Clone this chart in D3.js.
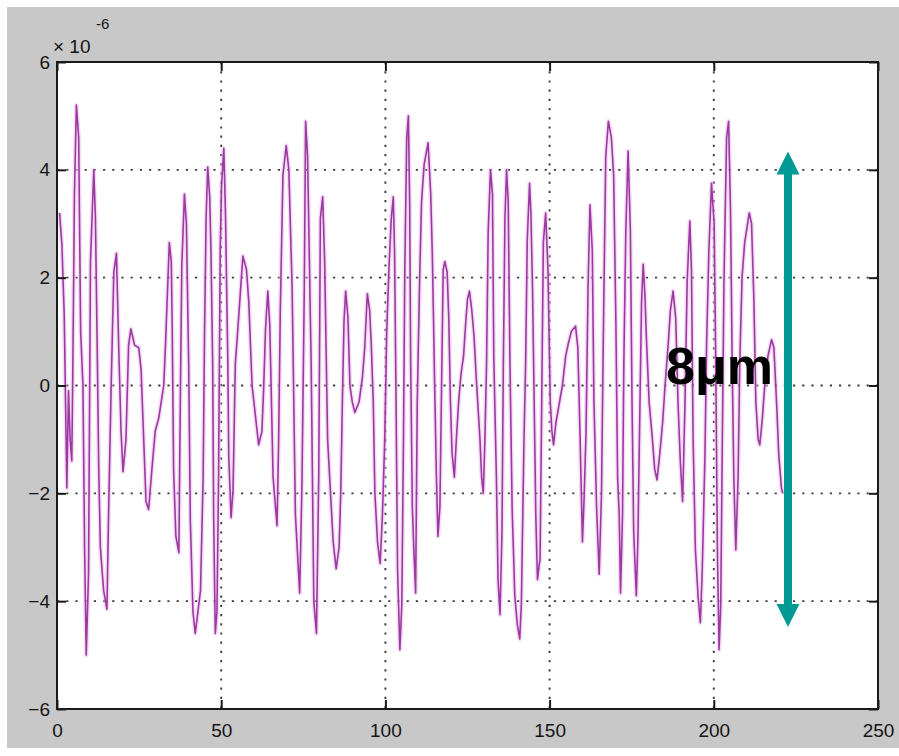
<!DOCTYPE html>
<html>
<head>
<meta charset="utf-8">
<script src="https://cdn.jsdelivr.net/npm/d3@7"></script>
<style>
  html, body { margin: 0; padding: 0; background: #ffffff; }
  svg { display: block; }
  .tick text { font-family: "Liberation Sans", Arial, sans-serif; }
</style>
</head>
<body>
<svg id="chart" width="899" height="756"></svg>
<script>
// Displacement trace (units of 1e-6 m) against sample index
const sampleX = [
  0.8, 1.5, 2.2, 3.0, 3.5, 4.0, 4.5, 4.8, 5.3, 5.9, 6.6, 7.2, 7.9, 8.4, 8.9, 9.6,
  10.2, 11.2, 11.7, 12.2, 12.7, 13.2, 14.2, 15.2, 15.7, 16.5, 17.3, 18.1, 18.8, 19.5,
  20.1, 21.0, 21.8, 22.5, 23.6, 24.9, 25.6, 26.4, 27.1, 27.9, 28.9, 29.9, 31.0, 32.5,
  33.0, 34.2, 34.8, 35.1, 35.5, 36.2, 37.1, 37.6, 38.0, 38.8, 39.4, 40.1, 40.6, 41.4,
  42.1, 43.7, 44.5, 44.9, 45.4, 45.9, 46.5, 46.9, 47.4, 47.7, 48.2, 48.7, 49.2, 49.7,
  50.1, 50.8, 51.3, 52.0, 52.3, 53.0, 53.6, 54.3, 55.3, 56.6, 57.7, 58.4, 59.4, 60.4,
  61.4, 62.4, 62.9, 63.5, 64.2, 64.8, 65.8, 67.0, 67.5, 68.0, 68.8, 69.8, 70.6, 71.6,
  72.6, 73.9, 74.6, 75.3, 75.7, 76.3, 77.4, 78.2, 79.0, 79.7, 80.2, 80.9, 81.5, 82.4,
  84.1, 85.0, 85.9, 86.4, 86.9, 87.4, 87.9, 88.6, 89.2, 89.9, 90.7, 92.0, 93.0, 93.7,
  94.5, 95.2, 95.7, 96.3, 96.8, 97.6, 98.4, 99.1, 99.8, 100.4, 101.1, 101.8, 102.4,
  102.8, 103.2, 103.7, 104.4, 105.0, 105.5, 105.9, 106.5, 107.0, 107.4, 107.7, 108.2,
  108.7, 109.2, 109.7, 110.4, 111.0, 111.8, 113.0, 113.8, 114.3, 115.0, 115.5, 116.0,
  116.6, 117.1, 117.6, 118.1, 118.8, 119.3, 119.8, 120.3, 121.0, 121.6, 122.3, 123.0,
  123.8, 124.5, 125.0, 125.6, 126.3, 127.0, 127.8, 128.8, 129.3, 129.8, 130.3, 130.8,
  131.3, 132.0, 132.6, 133.0, 133.8, 134.3, 134.9, 135.5, 135.9, 136.4, 136.9, 137.4,
  137.9, 138.6, 139.4, 140.2, 140.9, 141.4, 142.2, 142.7, 143.2, 143.9, 144.3, 144.8,
  145.3, 145.8, 146.3, 147.1, 147.6, 148.1, 148.8, 149.5, 150.2, 150.7, 151.2, 151.9,
  152.9, 153.9, 154.9, 155.6, 156.6, 157.9, 158.6, 159.3, 160.0, 160.5, 161.1, 161.7,
  162.3, 163.0, 163.5, 164.3, 165.1, 165.8, 166.4, 167.1, 167.9, 168.8, 169.5, 170.2,
  170.7, 171.2, 171.6, 172.2, 172.6, 173.2, 173.9, 174.6, 175.1, 175.6, 176.4, 176.9,
  177.5, 178.0, 178.5, 179.0, 179.5, 180.3, 181.3, 182.0, 182.7, 183.5, 184.4, 185.1,
  186.1, 186.8, 187.6, 188.4, 189.1, 189.8, 190.5, 191.2, 191.9, 192.7, 193.2, 193.7,
  194.4, 195.2, 195.9, 196.5, 197.3, 197.8, 198.5, 199.3, 200.1, 200.6, 201.1, 201.6,
  202.1, 202.6, 203.1, 203.9, 204.5, 205.1, 205.6, 206.1, 206.7, 207.4, 207.9, 208.6,
  209.4, 210.8, 211.5, 212.2, 212.8, 213.5, 214.0, 214.8, 215.5, 216.5, 217.6, 218.3,
  219.1, 219.8, 220.6, 221.0
];
const sampleY = [
  3.2, 2.6, 1.3, -1.9, -0.1, -1.0, -1.4, 0.2, 3.5, 5.2, 4.6, 1.0, 0, -3.0, -5.0, -3.5,
  2.3, 4.0, 3.1, 0.9, -1.5, -3.0, -3.8, -4.15, -2.4, 0, 2.1, 2.45, 0.7, -0.85,
  -1.6, -1.0, 0.75, 1.05, 0.75, 0.7, 0.3, -1.0, -2.15, -2.3, -1.55, -0.85, -0.6, 0,
  0.7, 2.65, 2.3, 1.0, -1.55, -2.8, -3.1, 0, 2.2, 3.55, 3.0, 0.4, -2.5, -4.2,
  -4.6, -3.8, -1.7, 0.85, 3.1, 4.05, 3.5, 2.45, 0.4, -2.4, -4.6, -4.2, -1.7, 2.5,
  3.7, 4.4, 3.2, 0.5, -1.3, -2.45, -1.95, 0.4, 1.25, 2.4, 2.15, 1.55, 0, -0.55,
  -1.1, -0.85, -0.1, 1.05, 1.75, 1.1, -1.7, -2.6, -1.0, 1.4, 3.9, 4.45, 4.0, 1.8,
  -2.4, -3.85, -1.8, 1.8, 4.9, 4.25, 0.4, -4.0, -4.6, -1.7, 3.1, 3.5, 2.3, -1.0,
  -2.9, -3.4, -3.0, -2.0, -0.3, 1.2, 1.75, 1.25, 0, -0.3, -0.5, -0.3, 0.15, 0.7,
  1.7, 1.4, 0.75, -0.3, -2.0, -2.9, -3.3, -2.4, -1.0, 1.0, 2.2, 3.1, 3.5,
  2.45, 0, -3.4, -4.9, -4.05, -1.0, 2.1, 4.6, 5.0, 3.3, 0.4, -2.25,
  -3.1, -3.85, -0.3, 1.9, 3.4, 4.1, 4.5, 3.55, 2.4, 0, -1.6, -2.8,
  -2.25, 0, 2.15, 2.3, 2.1, 1.25, -0.3, -1.25, -1.7, -1.0, -0.3, 0.2,
  0.55, 1.2, 1.6, 1.75, 1.4, 0.9, 0, -1.0, -1.7, -2.0, -1.0, 0.4,
  2.85, 4.0, 3.55, 0.55, -1.7, -3.6, -4.25, -2.7, 0.3, 3.1, 4.0, 3.4,
  0.55, -2.3, -3.9, -4.45, -4.7, -4.05, -1.0, 0.4, 2.7, 3.75, 3.2, 1.8,
  -0.3, -2.4, -3.6, -3.2, -0.3, 2.65, 3.2, 2.15, -0.3, -0.85, -1.1, -0.7,
  -0.35, 0, 0.55, 0.75, 1.0, 1.1, 0.7, -1.0, -2.9, -2.1, -0.85, 1.8,
  3.35, 2.5, -0.3, -2.25, -3.5, -2.0, 1.1, 4.25, 4.9, 4.6, 3.9, 1.1,
  -1.7, -2.4, -3.85, -2.4, 0.4, 2.85, 4.35, 2.85, -0.3, -2.7, -3.9, -2.8,
  -0.4, 1.55, 2.25, 1.7, 0.85, -0.3, -1.0, -1.55, -1.75, -1.3, -0.7, -0.05,
  0.75, 1.4, 1.75, 1.25, -0.3, -1.4, -2.15, -0.4, 1.95, 3.05, 2.15, -1.0,
  -3.05, -3.9, -4.4, -3.4, -1.3, 0.75, 2.5, 3.75, 3.0, 0.4, -3.05, -4.9,
  -4.1, -1.0, 1.95, 4.6, 4.9, 3.2, 0.4, -1.7, -3.05, -1.7, 0.4, 2.0,
  2.65, 3.2, 3.0, 1.6, -0.3, -1.0, -1.1, -0.6, 0, 0.55, 0.85, 0.7,
  -0.3, -1.3, -1.9, -2.0
];

const xTicks = [0, 50, 100, 150, 200, 250];
const yTicks = [-6, -4, -2, 0, 2, 4, 6];
const exponentLabel = "-6";

// Peak-to-peak annotation (micrometres)
const spanValue = 8;
const spanLabel = "8\u03bcm";

// ---- layout ----
const svg = d3.select("#chart");
const W = 899, H = 756;
const plot = { left: 57, right: 878, top: 62, bottom: 709 };

const x = d3.scaleLinear().domain([0, 250]).range([plot.left, plot.right]);
const y = d3.scaleLinear().domain([-6, 6]).range([plot.bottom, plot.top]);

// figure background
svg.append("rect").attr("x", 7).attr("y", 7).attr("width", W - 7).attr("height", 741)
  .attr("fill", "#c8c8c8");

// axes area
svg.append("rect")
  .attr("x", plot.left).attr("y", plot.top)
  .attr("width", plot.right - plot.left).attr("height", plot.bottom - plot.top)
  .attr("fill", "#ffffff");

// dotted grid
const grid = svg.append("g").attr("stroke", "#1e1e1e").attr("stroke-width", 1.9)
  .attr("stroke-dasharray", "2.2,7").attr("opacity", 0.85);
grid.selectAll("line.gx").data(xTicks.filter(t => t > 0 && t < 250)).join("line")
  .attr("x1", d => x(d)).attr("x2", d => x(d))
  .attr("y1", plot.top).attr("y2", plot.bottom);
grid.selectAll("line.gy").data(yTicks.filter(t => t > -6 && t < 6)).join("line")
  .attr("x1", plot.left).attr("x2", plot.right)
  .attr("y1", d => y(d)).attr("y2", d => y(d));

// signal: soft pink fringe under a purple core
const pts = sampleX.map((v, i) => [v, sampleY[i]]);
const line = d3.line().x(d => x(d[0])).y(d => y(d[1]));
svg.append("path").datum(pts).attr("d", line)
  .attr("fill", "none").attr("stroke", "#eeb8ee").attr("stroke-width", 4.5)
  .attr("stroke-linejoin", "round").attr("opacity", 0.5);
svg.append("path").datum(pts).attr("d", line)
  .attr("fill", "none").attr("stroke", "#9a3aa0").attr("stroke-width", 1.6)
  .attr("stroke-linejoin", "round");

// axis frame with inward ticks on all four sides
const tickLen = 9;
function styleAxis(g) {
  g.select(".domain").remove();
  g.selectAll(".tick line").attr("stroke", "#1a1a1a").attr("stroke-width", 2);
  g.selectAll(".tick text").attr("fill", "#141414").attr("font-size", 19);
}
svg.append("g").attr("transform", `translate(0,${plot.bottom})`)
  .call(d3.axisBottom(x).tickValues(xTicks).tickSize(-tickLen).tickPadding(15).tickFormat(d3.format("d")))
  .call(styleAxis);
svg.append("g").attr("transform", `translate(0,${plot.top})`)
  .call(d3.axisTop(x).tickValues(xTicks).tickSize(-tickLen).tickFormat(""))
  .call(styleAxis);
svg.append("g").attr("transform", `translate(${plot.left},0)`)
  .call(d3.axisLeft(y).tickValues(yTicks).tickSize(-tickLen).tickPadding(7).tickFormat(d3.format("d")))
  .call(styleAxis);
svg.append("g").attr("transform", `translate(${plot.right},0)`)
  .call(d3.axisRight(y).tickValues(yTicks).tickSize(-tickLen).tickFormat(""))
  .call(styleAxis);
svg.selectAll(".tick text").attr("font-family", "'Liberation Sans', Arial, sans-serif");

svg.append("rect")
  .attr("x", plot.left).attr("y", plot.top)
  .attr("width", plot.right - plot.left).attr("height", plot.bottom - plot.top)
  .attr("fill", "none").attr("stroke", "#1a1a1a").attr("stroke-width", 2);

// exponent multiplier
const expo = svg.append("g").attr("font-family", "'Liberation Sans', Arial, sans-serif").attr("fill", "#141414");
expo.append("text").attr("x", 53).attr("y", 53).attr("font-size", 19).text("\u00d7 10");
expo.append("text").attr("x", 96).attr("y", 29).attr("font-size", 15).text(exponentLabel);

// double-headed span arrow
const arrowX = x(222.6);
const spanCenter = -0.07;
const yTop = y(spanCenter + spanValue / 2), yBot = y(spanCenter - spanValue / 2);
const headL = 22, headW = 23, shaftW = 8;
const teal = "#009a94";
svg.append("rect").attr("x", arrowX - shaftW / 2).attr("y", yTop)
  .attr("width", shaftW).attr("height", yBot - yTop).attr("fill", teal);
svg.append("path").attr("fill", teal)
  .attr("d", `M${arrowX - headW / 2},${yTop + 1} L${arrowX},${yTop - headL} L${arrowX + headW / 2},${yTop + 1} Z`);
svg.append("path").attr("fill", teal)
  .attr("d", `M${arrowX - headW / 2},${yBot - 1} L${arrowX},${yBot + headL} L${arrowX + headW / 2},${yBot - 1} Z`);

svg.append("text").attr("x", 666).attr("y", 384)
  .attr("font-family", "'Liberation Sans', Arial, sans-serif")
  .attr("font-weight", "bold").attr("font-size", 52).attr("fill", "#000")
  .text(spanLabel);
</script>
</body>
</html>
